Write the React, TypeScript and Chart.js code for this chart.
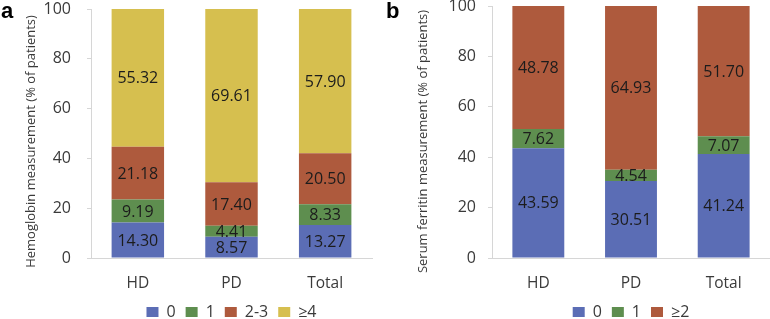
import React, { useEffect, useRef } from "react";
import { Chart, registerables } from "chart.js";

Chart.register(...registerables);

// ---- data ----
const categories = ["HD", "PD", "Total"];

const hbSeriesNames = ["0", "1", "2-3", "≥4"];
const hb0 = [14.3, 8.57, 13.27];
const hb1 = [9.19, 4.41, 8.33];
const hb23 = [21.18, 17.4, 20.5];
const hb4 = [55.32, 69.61, 57.9];

const sfSeriesNames = ["0", "1", "≥2"];
const sf0 = [43.59, 30.51, 41.24];
const sf1 = [7.62, 4.54, 7.07];
const sf2 = [48.78, 64.93, 51.7];

const yTickValues = [0, 20, 40, 60, 80, 100];

const hbTitle = "Hemoglobin measurement (% of patients)";
const sfTitle = "Serum ferritin measurement (% of patients)";

// ---- styles ----
const FONT = "'Open Sans', sans-serif";
const BLUE = "#5B6DB5";
const GREEN = "#5E8E4F";
const RED = "#AE5A3D";
const YELLOW = "#D6BF4F";
const AXIS = "#d6d6d6";
const TEXT = "#3a3a3a";

type PanelOpts = {
  seriesNames: string[];
  series: number[][];
  colors: string[];
  title: string;
  axisX: number;
  padTop: number;
  padRight: number;
  tickPad: number;
  titleX: number;
  titleY: number;
};

function makeChart(canvas: HTMLCanvasElement, o: PanelOpts) {
  const segLabels = {
    id: "segLabels",
    afterDatasetsDraw(chart: any) {
      const ctx = chart.ctx;
      ctx.save();
      ctx.font = `16px ${FONT}`;
      ctx.fillStyle = "#1c1c1c";
      ctx.textAlign = "center";
      ctx.textBaseline = "middle";
      chart.data.datasets.forEach((ds: any, i: number) => {
        const meta = chart.getDatasetMeta(i);
        meta.data.forEach((el: any, j: number) => {
          const v = ds.data[j] as number;
          const p = el.getProps(["x", "y", "base"], true);
          ctx.fillText(v.toFixed(2), p.x, (p.y + p.base) / 2 + 1);
        });
      });
      ctx.restore();
    },
  };
  const yTitle = {
    id: "yTitle",
    afterDraw(chart: any) {
      const ctx = chart.ctx;
      ctx.save();
      ctx.translate(o.titleX, o.titleY);
      ctx.rotate(-Math.PI / 2);
      ctx.font = `13px ${FONT}`;
      ctx.fillStyle = TEXT;
      ctx.textAlign = "center";
      ctx.textBaseline = "middle";
      ctx.fillText(o.title, 0, 0);
      ctx.restore();
    },
  };

  return new Chart(canvas, {
    type: "bar",
    data: {
      labels: categories,
      datasets: o.series.map((d, i) => ({
        label: o.seriesNames[i],
        data: d,
        backgroundColor: o.colors[i],
        borderColor: o.colors[i],
        borderWidth: 0,
        categoryPercentage: 1,
        barPercentage: 0.56,
      })),
    },
    options: {
      responsive: false,
      animation: false,
      layout: { padding: { top: o.padTop, right: o.padRight, left: 0, bottom: 0 } },
      plugins: {
        legend: {
          position: "bottom",
          fullSize: false,
          labels: {
            boxWidth: 12,
            boxHeight: 10,
            padding: 10,
            color: TEXT,
            font: { family: FONT, size: 16 },
          },
        },
        tooltip: { enabled: false },
      },
      scales: {
        x: {
          stacked: true,
          grid: { display: false, drawTicks: false },
          border: { display: true, color: AXIS, width: 1 },
          ticks: { padding: 16, color: TEXT, font: { family: FONT, size: 15.5 } },
          afterFit: (s: any) => {
            s.height = 36;
            s.paddingLeft = 0;
            s.paddingRight = 0;
          },
        },
        y: {
          stacked: true,
          min: 0,
          max: 100,
          afterBuildTicks: (s: any) => {
            s.ticks = yTickValues.map((v) => ({ value: v }));
          },
          ticks: { padding: o.tickPad, color: TEXT, font: { family: FONT, size: 16 } },
          grid: { drawOnChartArea: false, drawTicks: true, tickLength: 4, tickColor: AXIS },
          border: { display: true, color: AXIS, width: 1 },
          afterFit: (s: any) => {
            s.width = o.axisX;
            s.paddingTop = 0;
            s.paddingBottom = 0;
          },
        },
      },
    } as any,
    plugins: [segLabels, yTitle],
  });
}

function Panel(props: PanelOpts & { left: number; letter: string; letterLeft: number }) {
  const ref = useRef<HTMLCanvasElement>(null);
  useEffect(() => {
    if (!ref.current) return;
    const ch = makeChart(ref.current, props);
    return () => ch.destroy();
  }, []);
  return (
    <div style={{ position: "absolute", left: props.left, top: 0, width: 385, height: 319, overflow: "hidden" }}>
      <canvas ref={ref} width={385} height={330} style={{ display: "block" }} />
      <div
        style={{
          position: "absolute",
          left: props.letterLeft,
          top: 0,
          font: "bold 22px 'Liberation Sans', Arial, sans-serif",
          lineHeight: "22px",
          color: "#000",
        }}
      >
        {props.letter}
      </div>
    </div>
  );
}

export default function App() {
  return (
    <div style={{ position: "absolute", left: 0, top: 0, width: 770, height: 319, background: "#fff", overflow: "hidden" }}>
      <Panel
        left={0}
        letter="a"
        letterLeft={1}
        seriesNames={hbSeriesNames}
        series={[hb0, hb1, hb23, hb4]}
        colors={[BLUE, GREEN, RED, YELLOW]}
        title={hbTitle}
        axisX={91}
        padTop={9}
        padRight={13}
        tickPad={16}
        titleX={31}
        titleY={141.5}
      />
      <Panel
        left={385}
        letter="b"
        letterLeft={1}
        seriesNames={sfSeriesNames}
        series={[sf0, sf1, sf2]}
        colors={[BLUE, GREEN, RED]}
        title={sfTitle}
        axisX={107}
        padTop={6}
        padRight={0}
        tickPad={12}
        titleX={38}
        titleY={141.5}
      />
    </div>
  );
}
